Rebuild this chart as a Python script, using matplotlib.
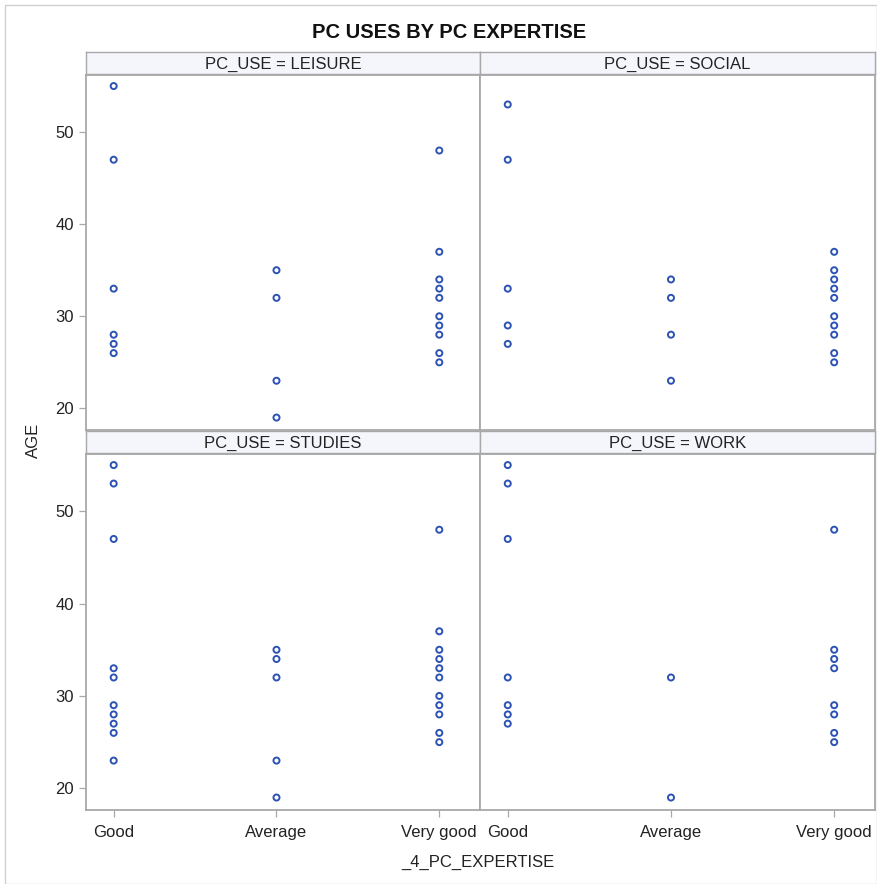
import matplotlib
matplotlib.use("Agg")
import matplotlib.pyplot as plt
from matplotlib.patches import Rectangle

plt.rcParams['font.family'] = ['Liberation Sans', 'DejaVu Sans']

# Expertise levels in display order
expertise = ["Good", "Average", "Very good"]

# Ages per PC use, grouped by expertise level
leisure_good = [55, 47, 33, 28, 27, 26]
leisure_average = [35, 32, 23, 19]
leisure_verygood = [48, 37, 34, 33, 32, 30, 29, 28, 26, 25]

social_good = [53, 47, 33, 29, 27]
social_average = [34, 32, 28, 23]
social_verygood = [37, 35, 34, 33, 32, 30, 29, 28, 26, 25]

studies_good = [55, 53, 47, 33, 32, 29, 28, 27, 26, 23]
studies_average = [35, 34, 32, 23, 19]
studies_verygood = [48, 37, 35, 34, 33, 32, 30, 29, 28, 26, 25]

work_good = [55, 53, 47, 32, 29, 28, 27]
work_average = [32, 19]
work_verygood = [48, 35, 34, 33, 29, 28, 26, 25]

panels = [
    ("LEISURE", [leisure_good, leisure_average, leisure_verygood]),
    ("SOCIAL", [social_good, social_average, social_verygood]),
    ("STUDIES", [studies_good, studies_average, studies_verygood]),
    ("WORK", [work_good, work_average, work_verygood]),
]

y_ticks = [20, 30, 40, 50]

W, H = 878, 884
fig = plt.figure(figsize=(W / 100, H / 100), dpi=100)

# outer frame
fig.patches.append(Rectangle((5 / W, 0), (877 - 5) / W, 1 - 5 / H,
                             transform=fig.transFigure, fill=False,
                             edgecolor="#d0d0d0", linewidth=1.0))

frame_col = "#a8a8a8"
marker_col = "#2c52b4"
text_col = "#222222"

x_left = [86, 480]
x_right = [480, 875]
rows = [(75, 430, 52), (454, 810, 431)]  # plot top, plot bottom, strip top

for i, (name, groups) in enumerate(panels):
    r, c = divmod(i, 2)
    top, bot, stop = rows[r]
    x0, x1 = x_left[c], x_right[c]
    ax = fig.add_axes([x0 / W, 1 - bot / H, (x1 - x0) / W, (bot - top) / H])
    for k, vals in enumerate(groups):
        ax.scatter([k] * len(vals), vals, s=19, facecolors="none",
                   edgecolors=marker_col, linewidths=1.4, zorder=3)
    ax.set_xlim(-0.17, 2.25)
    ax.set_ylim(17.65, 56.2)
    ax.set_xticks(range(len(expertise)))
    ax.set_yticks(y_ticks)
    for sp in ax.spines.values():
        sp.set_color(frame_col)
        sp.set_linewidth(1.3)
    ax.tick_params(colors=frame_col, labelcolor=text_col, labelsize=12,
                   length=5, width=0.9)
    if c == 0:
        ax.set_yticklabels([str(v) for v in y_ticks])
    else:
        ax.tick_params(axis="y", left=False, labelleft=False)
    if r == 1:
        ax.set_xticklabels(expertise)
        ax.tick_params(axis="x", pad=6)
    else:
        ax.tick_params(axis="x", bottom=False, labelbottom=False)

    # strip header
    sax = fig.add_axes([x0 / W, 1 - (top - 1) / H, (x1 - x0) / W, (top - 1 - stop) / H])
    sax.set_facecolor("#f4f6fc")
    sax.set_xticks([])
    sax.set_yticks([])
    for sp in sax.spines.values():
        sp.set_color(frame_col)
        sp.set_linewidth(1.0)
    sax.text(0.5, 0.45, f"PC_USE = {name}", ha="center", va="center",
             fontsize=12, color=text_col, transform=sax.transAxes)

fig.text(449 / W, 1 - 32 / H, "PC USES BY PC EXPERTISE", ha="center",
         va="center", fontsize=14.5, fontweight="bold", color="#111111")
fig.text(33 / W, 1 - 440 / H, "AGE", rotation=90, ha="center", va="center",
         fontsize=12, color=text_col)
fig.text(478 / W, 1 - 862 / H, "_4_PC_EXPERTISE", ha="center", va="center",
         fontsize=12, color=text_col)

fig.savefig("out.png", dpi=100)
